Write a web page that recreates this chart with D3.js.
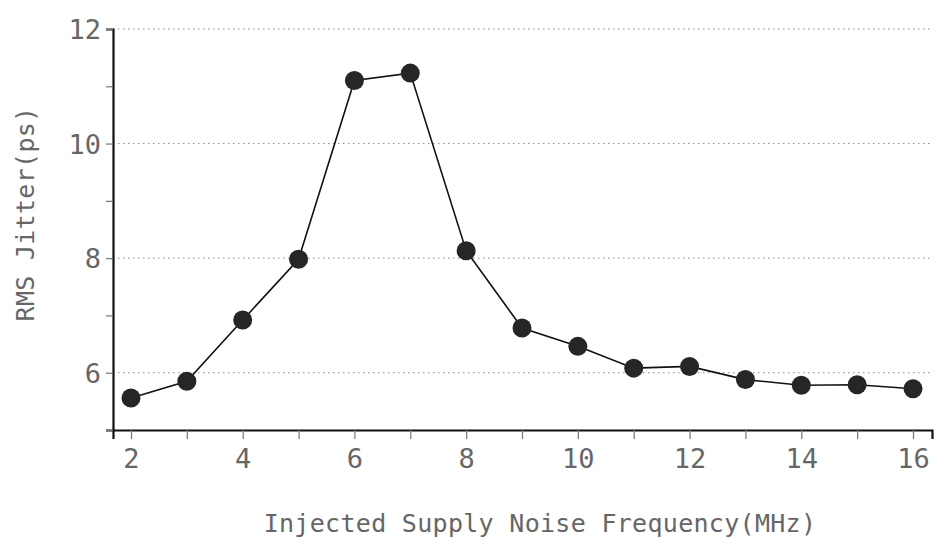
<!DOCTYPE html>
<html>
<head>
<meta charset="utf-8">
<script src="https://cdn.jsdelivr.net/npm/d3@7"></script>
<style>
  body { margin: 0; background: #fff; }
  svg text { font-family: "DejaVu Sans Mono", monospace; fill: #666; }
</style>
</head>
<body>
<svg id="chart"></svg>
<script>
// values
const frequency = [2, 3, 4, 5, 6, 7, 8, 9, 10, 11, 12, 13, 14, 15, 16];
const jitter = [5.56, 5.85, 6.92, 7.98, 11.1, 11.23, 8.13, 6.78, 6.46, 6.08, 6.11, 5.88, 5.78, 5.79, 5.72];
const xTicks = [2, 3, 4, 5, 6, 7, 8, 9, 10, 11, 12, 13, 14, 15, 16];
const yTicks = [5, 6, 7, 8, 9, 10, 11, 12];
const yGrid = [6, 8, 10, 12];

const width = 936, height = 548;
const margin = {top: 29, right: 4, bottom: 118, left: 113};

const svg = d3.select("#chart")
    .attr("width", width)
    .attr("height", height);

const x = d3.scaleLinear()
    .domain([1.678, 16.34])
    .range([margin.left, width - margin.right]);

const y = d3.scaleLinear()
    .domain([5, 12])
    .range([height - margin.bottom, margin.top]);

// dotted grid lines
svg.append("g")
    .selectAll("line")
    .data(yGrid)
  .enter().append("line")
    .attr("x1", x.range()[0])
    .attr("x2", x.range()[1])
    .attr("y1", d => y(d))
    .attr("y2", d => y(d))
    .attr("stroke", "#888")
    .attr("stroke-width", 1)
    .attr("stroke-dasharray", "1.5,3.5");

// axes
const xAxis = svg.append("g")
    .attr("transform", `translate(0,${height - margin.bottom})`)
    .call(d3.axisBottom(x)
        .tickValues(xTicks)
        .tickSize(9)
        .tickPadding(10)
        .tickFormat(d => d % 2 === 0 ? d : ""));

const yAxis = svg.append("g")
    .attr("transform", `translate(${margin.left},0)`)
    .call(d3.axisLeft(y)
        .tickValues(yTicks)
        .tickSize(7)
        .tickPadding(5)
        .tickFormat(d => d % 2 === 0 && d > 5 ? d : ""));

[xAxis, yAxis].forEach(g => {
    g.select(".domain").attr("stroke", "#111").attr("stroke-width", 2.2);
    g.selectAll(".tick line").attr("stroke", "#777").attr("stroke-width", 1.2);
    g.selectAll(".tick text")
        .attr("font-size", 27)
        .attr("fill", "#666");
});
yAxis.selectAll(".tick text").attr("dy", "0.36em");

// line and markers
const line = d3.line()
    .x((d, i) => x(frequency[i]))
    .y(d => y(d));

svg.append("path")
    .datum(jitter)
    .attr("d", line)
    .attr("fill", "none")
    .attr("stroke", "#111")
    .attr("stroke-width", 1.6);

svg.append("g")
    .selectAll("circle")
    .data(jitter)
  .enter().append("circle")
    .attr("cx", (d, i) => x(frequency[i]))
    .attr("cy", d => y(d))
    .attr("r", 9.5)
    .attr("fill", "#262626");

// axis titles
svg.append("text")
    .attr("x", 540)
    .attr("y", 532)
    .attr("text-anchor", "middle")
    .attr("font-size", 25)
    .attr("letter-spacing", 0.3)
    .text("Injected Supply Noise Frequency(MHz)");

svg.append("text")
    .attr("transform", "translate(34,214) rotate(-90)")
    .attr("text-anchor", "middle")
    .attr("font-size", 25)
    .attr("letter-spacing", 0.3)
    .text("RMS Jitter(ps)");
</script>
</body>
</html>
